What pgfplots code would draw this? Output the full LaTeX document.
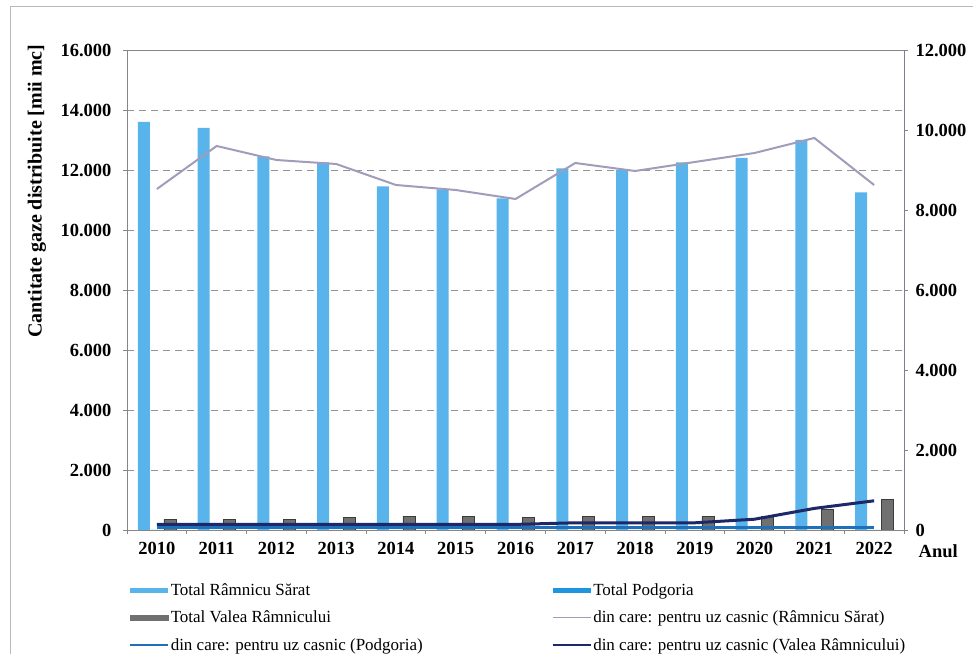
\documentclass[border=0pt]{standalone}
\usepackage{fontspec}
\setmainfont{Liberation Serif}
\usepackage{pgfplots}
\pgfplotsset{compat=1.18}

\definecolor{rsblue}{RGB}{88,180,234}
\definecolor{pgblue}{RGB}{30,150,222}
\definecolor{vrgray}{RGB}{112,112,112}
\definecolor{vredge}{RGB}{60,60,60}
\definecolor{rsline}{RGB}{160,156,186}
\definecolor{pgline}{RGB}{31,112,184}
\definecolor{vrline}{RGB}{28,40,104}
\definecolor{axgray}{RGB}{134,134,134}

\newcommand\fs{\fontsize{17bp}{20bp}\selectfont}
\newcommand\tfs{\fontsize{18.5bp}{22bp}\selectfont}

\begin{document}
\begin{tikzpicture}
\useasboundingbox (0bp,0bp) rectangle (973bp,654bp);
\draw[gray!55, line width=0.7bp] (10bp,0bp) -- (10bp,648bp) -- (973bp,648bp);

\begin{axis}[
  at={(127bp,124bp)}, anchor=south west,
  scale only axis, width=777bp, height=480bp,
  xmin=-0.5, xmax=12.5, ymin=0, ymax=16000,
  scaled y ticks=false,
  tick pos=left, tick align=outside, major tick length=4bp,
  xtick={-0.5,0.5,1.5,2.5,3.5,4.5,5.5,6.5,7.5,8.5,9.5,10.5,11.5,12.5},
  xticklabels={},
  extra x ticks={0,1,2,3,4,5,6,7,8,9,10,11,12},
  extra x tick labels={2010,2011,2012,2013,2014,2015,2016,2017,2018,2019,2020,2021,2022},
  extra x tick style={major tick length=0pt, xticklabel style={yshift=-9bp}},
  ytick={0,2000,...,16000},
  ymajorgrids,
  grid style={dash pattern=on 7bp off 5bp, gray!85, line width=0.8bp},
  axis line style={axgray, line width=0.8bp},
  tick style={axgray, line width=0.8bp},
  ticklabel style={font=\tfs\bfseries},
  yticklabel style={xshift=-8bp},
  /pgf/number format/.cd, 1000 sep={.}, assume math mode=true,
  /pgfplots/.cd,
  ylabel={Cantitate gaze distribuite [mii mc]},
  ylabel style={at={(axis description cs:-0.116,0.706)}, anchor=center,
    font=\fontsize{20bp}{24bp}\selectfont\bfseries},
  xlabel={Anul},
  xlabel style={at={(axis description cs:1.044,-0.044)}, anchor=center, font=\tfs\bfseries},
  legend columns=2,
  legend style={at={(axis description cs:0.002,-0.108)}, anchor=north west,
    draw=none, fill=none, inner sep=0pt, column sep=0pt, row sep=11bp,
    font=\fs, cells={anchor=west}, nodes={inner sep=1.5bp}},
]
\addplot[ybar, bar width=12bp, bar shift=-13bp, fill=rsblue, draw=none,
  legend image code/.code={\fill[rsblue] (0bp,-2.5bp) rectangle (38bp,2.5bp);}]
  coordinates {(0,13600)(1,13400)(2,12450)(3,12250)(4,11450)(5,11350)(6,11050)
               (7,12050)(8,12000)(9,12250)(10,12400)(11,13000)(12,11250)};
\addlegendentry{\makebox[379bp][l]{Total Râmnicu Sărat}}
\addplot[ybar, bar width=12bp, bar shift=0bp, fill=pgblue, draw=none,
  legend image code/.code={\fill[pgblue] (0bp,-2.5bp) rectangle (38bp,2.5bp);}]
  coordinates {(0,0)(1,0)(2,0)(3,0)(4,0)(5,0)(6,0)(7,0)(8,0)(9,0)(10,0)(11,0)(12,0)};
\addlegendentry{Total Podgoria}
\addplot[ybar, bar width=12bp, bar shift=13bp, fill=vrgray, draw=vredge, line width=0.6bp,
  legend image code/.code={\fill[vrgray] (0bp,-2.5bp) rectangle (38bp,2.5bp);}]
  coordinates {(0,360)(1,360)(2,360)(3,420)(4,450)(5,450)(6,420)
               (7,440)(8,460)(9,460)(10,440)(11,690)(12,1020)};
\addlegendentry{\makebox[379bp][l]{Total Valea Râmnicului}}
\addlegendimage{legend image code/.code={\draw[rsline, line width=1.2bp] (0bp,0bp) -- (38bp,0bp);}}
\addlegendentry{din care: pentru uz casnic (Râmnicu Sărat)}
\addlegendimage{legend image code/.code={\draw[pgline, line width=2.5bp] (0bp,0bp) -- (38bp,0bp);}}
\addlegendentry{\makebox[379bp][l]{din care: pentru uz casnic (Podgoria)}}
\addlegendimage{legend image code/.code={\draw[vrline, line width=2.5bp] (0bp,0bp) -- (38bp,0bp);}}
\addlegendentry{din care: pentru uz casnic (Valea Râmnicului)}
\end{axis}

\begin{axis}[
  at={(127bp,124bp)}, anchor=south west,
  scale only axis, width=777bp, height=480bp,
  xmin=-0.5, xmax=12.5, ymin=0, ymax=12000,
  scaled y ticks=false,
  axis x line=none, axis y line*=right,
  ytick={0,2000,...,12000},
  tick align=outside, major tick length=4bp,
  axis line style={rsline!80!black, line width=0.8bp},
  tick style={axgray, line width=0.8bp},
  ticklabel style={font=\tfs\bfseries},
  yticklabel style={anchor=west, xshift=4bp},
  /pgf/number format/.cd, 1000 sep={.}, assume math mode=true,
]
\addplot[rsline, line width=2bp, mark=none]
  coordinates {(0,8525)(1,9600)(2,9250)(3,9150)(4,8625)(5,8500)(6,8275)
               (7,9175)(8,8975)(9,9200)(10,9425)(11,9800)(12,8625)};
\addplot[pgline, line width=3bp, mark=none]
  coordinates {(0,50)(1,50)(2,50)(3,50)(4,50)(5,50)(6,50)
               (7,50)(8,50)(9,50)(10,50)(11,50)(12,50)};
\addplot[vrline, line width=3bp, mark=none]
  coordinates {(0,140)(1,140)(2,140)(3,140)(4,140)(5,140)(6,140)
               (7,180)(8,180)(9,180)(10,270)(11,540)(12,730)};
\end{axis}
\end{tikzpicture}
\end{document}
